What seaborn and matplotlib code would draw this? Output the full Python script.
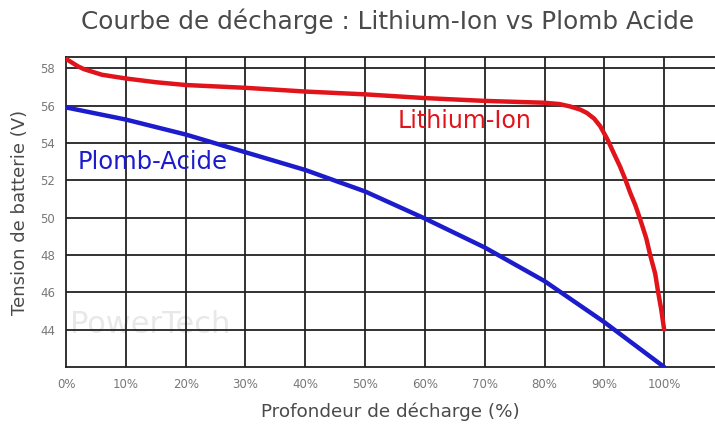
import matplotlib
matplotlib.use("Agg")
import matplotlib.pyplot as plt
import seaborn as sns
import pandas as pd

# Data
li_x = [0, 1, 2, 3, 4.5, 6, 8, 10, 15, 20, 30, 40, 50, 60, 70, 80, 82.5, 84.3, 86, 87.1, 88.3, 89.3, 90.5, 91.5, 92.6, 93.5, 94.3, 95.2, 96, 97, 97.7, 98.5, 99, 99.5, 100]
li_y = [58.5, 58.3, 58.1, 57.95, 57.8, 57.65, 57.55, 57.45, 57.25, 57.1, 56.95, 56.75, 56.6, 56.4, 56.25, 56.15, 56.08, 55.95, 55.78, 55.6, 55.3, 54.9, 54.2, 53.5, 52.75, 52.05, 51.35, 50.65, 49.9, 48.9, 47.95, 47.0, 46.0, 45.1, 44.0]
pa_x = [0, 10, 20, 30, 40, 50, 60, 70, 80, 90, 100]
pa_y = [55.9, 55.25, 54.45, 53.5, 52.55, 51.4, 49.95, 48.4, 46.6, 44.4, 42.0]
x_ticks = [0, 10, 20, 30, 40, 50, 60, 70, 80, 90, 100]
x_tick_labels = [f"{v}%" for v in x_ticks]
y_ticks = [44, 46, 48, 50, 52, 54, 56, 58]

df = pd.concat([
    pd.DataFrame({"x": li_x, "y": li_y, "s": "Lithium-Ion"}),
    pd.DataFrame({"x": pa_x, "y": pa_y, "s": "Plomb-Acide"}),
])

sns.set_theme(style="white")
plt.rcParams['font.family'] = ['DejaVu Sans']

fig = plt.figure(figsize=(7.15, 4.3), dpi=100)
ax = fig.add_axes([66/715, 1-367/430, 1-66/715, (367-57)/430])

for yv in y_ticks:
    ax.axhline(yv, color="#222222", lw=1.3, zorder=1)
for xv in x_ticks[1:]:
    ax.axvline(xv, color="#222222", lw=1.3, zorder=1)

sns.lineplot(data=df, x="x", y="y", hue="s", palette={"Lithium-Ion": "#e0141a", "Plomb-Acide": "#1c1ccc"},
             lw=3.2, legend=False, ax=ax, zorder=3, sort=False, estimator=None)
for ln in ax.lines:
    ln.set_solid_capstyle("round")
    ln.set_solid_joinstyle("round")

ax.set_xlim(0, 108.5)
ax.set_ylim(42, 58.6)
ax.set_xticks(x_ticks)
ax.set_xticklabels(x_tick_labels, fontsize=8.5, color="#777777")
ax.set_yticks(y_ticks)
ax.set_yticklabels([str(v) for v in y_ticks], fontsize=8.5, color="#777777")
ax.tick_params(length=0, pad=8)
for s in ["left", "top", "bottom"]:
    ax.spines[s].set_visible(True)
    ax.spines[s].set_color("#222222")
    ax.spines[s].set_linewidth(1.3)
ax.spines["right"].set_visible(False)

ax.set_xlabel("Profondeur de décharge (%)", fontsize=13.2, color="#4a4a4a", labelpad=8)
ax.set_ylabel("Tension de batterie (V)", fontsize=13, color="#4a4a4a", labelpad=8)
fig.text(388/715, 1-21/430, "Courbe de décharge : Lithium-Ion vs Plomb Acide", ha="center", va="center",
         fontsize=17.8, color="#4a4a4a")

ax.text(55.5, 55.15, "Lithium-Ion", color="#e0141a", fontsize=17, va="center", ha="left")
ax.text(2, 53.0, "Plomb-Acide", color="#1c1ccc", fontsize=17.5, va="center", ha="left")
ax.text(0.7, 44.3, "PowerTech", color="#cccccc", alpha=0.45, fontsize=22, va="center", ha="left", zorder=0)

fig.savefig("out.png", dpi=100)
